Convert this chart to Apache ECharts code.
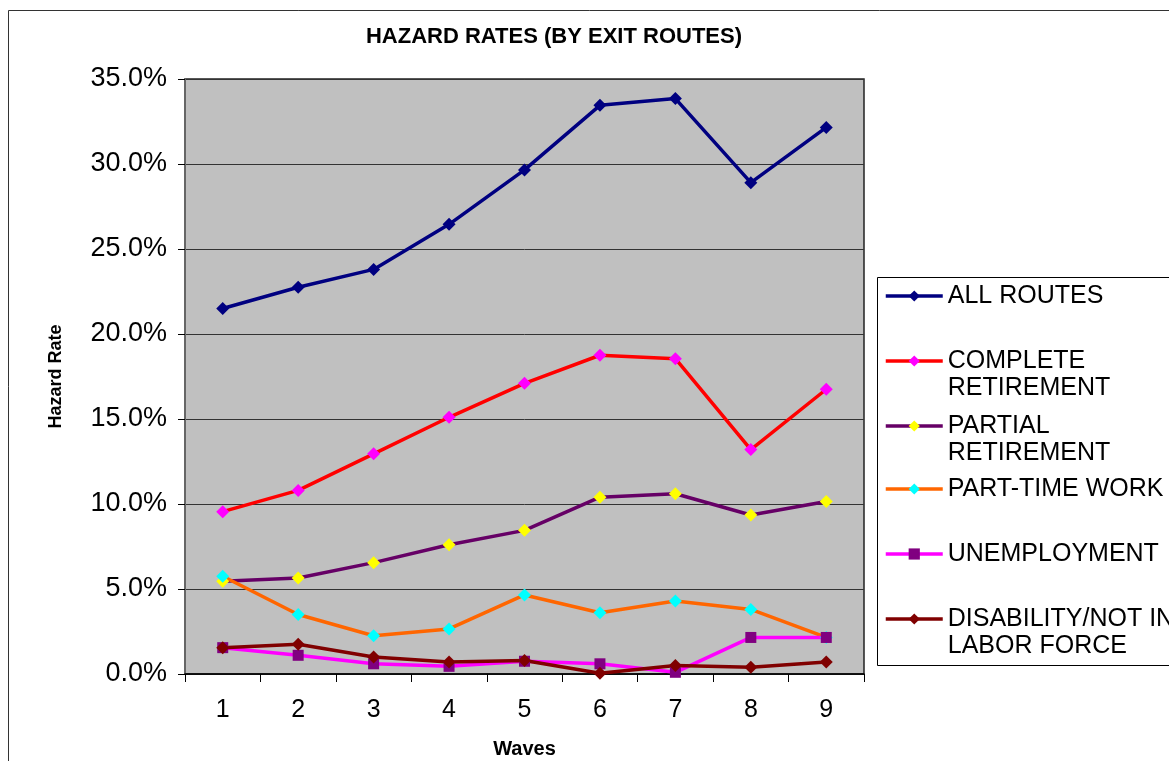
<!DOCTYPE html>
<html>
<head>
<meta charset="utf-8">
<title>Hazard Rates (by exit routes)</title>
<script src="https://cdn.jsdelivr.net/npm/echarts@6/dist/echarts.min.js"></script>
<style>
  html, body { margin: 0; padding: 0; background: #ffffff; }
  #chart { width: 1169px; height: 761px; }
</style>
</head>
<body>
<div id="chart"></div>
<script>
// Survey waves on the x axis
const waves = ['1', '2', '3', '4', '5', '6', '7', '8', '9'];

// Hazard rates per exit route, in percent
const allRoutes          = [21.5, 22.75, 23.8, 26.45, 29.65, 33.45, 33.85, 28.9, 32.15];
const completeRetirement = [9.55, 10.8, 12.95, 15.1, 17.1, 18.75, 18.55, 13.2, 16.75];
const partialRetirement  = [5.45, 5.65, 6.55, 7.6, 8.45, 10.4, 10.6, 9.35, 10.15];
const partTimeWork       = [5.75, 3.5, 2.25, 2.65, 4.65, 3.6, 4.3, 3.8, 2.15];
const unemployment       = [1.55, 1.1, 0.6, 0.45, 0.75, 0.6, 0.1, 2.15, 2.15];
const disabilityNotInLF  = [1.55, 1.75, 1.0, 0.7, 0.8, 0.05, 0.5, 0.4, 0.7];

// Y axis ticks (percent)
const yMin = 0, yMax = 35, yStep = 5;

const seriesDefs = [
  { name: 'ALL ROUTES', label: 'ALL ROUTES', data: allRoutes, line: '#000080', marker: '#000080', symbol: 'diamond', size: 13 },
  { name: 'COMPLETE RETIREMENT', label: 'COMPLETE\nRETIREMENT', data: completeRetirement, line: '#FF0000', marker: '#FF00FF', symbol: 'diamond', size: 13 },
  { name: 'PARTIAL RETIREMENT', label: 'PARTIAL\nRETIREMENT', data: partialRetirement, line: '#660066', marker: '#FFFF00', symbol: 'diamond', size: 13 },
  { name: 'PART-TIME WORK', label: 'PART-TIME WORK', data: partTimeWork, line: '#FF6600', marker: '#00FFFF', symbol: 'diamond', size: 13 },
  { name: 'UNEMPLOYMENT', label: 'UNEMPLOYMENT', data: unemployment, line: '#FF00FF', marker: '#800080', symbol: 'rect', size: 11 },
  { name: 'DISABILITY/NOT IN LABOR FORCE', label: 'DISABILITY/NOT IN\nLABOR FORCE', data: disabilityNotInLF, line: '#800000', marker: '#800000', symbol: 'diamond', size: 13 }
];

const FONT = 'Liberation Sans, Arial, Helvetica, sans-serif';
const LEGEND_LINE_H = 27;
// vertical centre of each legend swatch
const legendCenters = [296, 361, 426, 489, 554, 619];

const legends = seriesDefs.map((s, i) => {
  const twoLine = s.label.indexOf('\n') >= 0;
  const h = twoLine ? LEGEND_LINE_H * 3 : LEGEND_LINE_H;
  return {
    data: [s.name],
    orient: 'vertical',
    left: 884,
    top: legendCenters[i] - h / 2,
    padding: 0,
    itemWidth: 57,
    itemHeight: 14,
    itemGap: 0,
    selectedMode: false,
    lineStyle: { width: 3.5 },
    formatter: () => twoLine ? ' \n' + s.label : s.label,
    textStyle: { fontFamily: FONT, fontSize: 25, color: '#000', lineHeight: LEGEND_LINE_H, padding: [0, 0, 0, 0] }
  };
});

const chart = echarts.init(document.getElementById('chart'), null, { renderer: 'canvas' });

chart.setOption({
  backgroundColor: '#ffffff',
  animation: false,
  title: {
    text: 'HAZARD RATES (BY EXIT ROUTES)',
    left: 549,
    textAlign: 'center',
    top: 21,
    textStyle: { fontFamily: FONT, fontSize: 22, fontWeight: 'bold', color: '#000' }
  },
  graphic: [
    // chart frame
    { type: 'rect', shape: { x: 8.5, y: 10.5, width: 1300, height: 900 }, style: { fill: 'none', stroke: '#333', lineWidth: 1 }, silent: true, z: -1 },
    // legend frame
    { type: 'rect', shape: { x: 877.5, y: 277.5, width: 400, height: 388 }, style: { fill: '#fff', stroke: '#000', lineWidth: 1 }, silent: true, z: 0 }
  ],
  legend: legends,
  grid: {
    left: 185, right: 305, top: 79, bottom: 87,
    outerBoundsMode: 'none',
    containLabel: false,
    show: true,
    backgroundColor: '#C0C0C0',
    borderColor: '#222',
    borderWidth: 1.5
  },
  xAxis: {
    type: 'category',
    data: waves,
    boundaryGap: true,
    name: 'Waves',
    nameLocation: 'middle',
    nameGap: 65,
    nameTextStyle: { fontFamily: FONT, fontSize: 20, fontWeight: 'bold', color: '#000' },
    axisLine: { lineStyle: { color: '#000', width: 1.5 } },
    axisTick: { show: true, length: 8, lineStyle: { color: '#000', width: 1 } },
    axisLabel: { fontFamily: FONT, fontSize: 25, color: '#000', margin: 24 },
    splitLine: { show: false }
  },
  yAxis: {
    type: 'value',
    min: yMin, max: yMax, interval: yStep,
    name: 'Hazard Rate',
    nameLocation: 'middle',
    nameGap: 120,
    nameRotate: 90,
    nameTextStyle: { fontFamily: FONT, fontSize: 18, fontWeight: 'bold', color: '#000' },
    axisLine: { show: true, lineStyle: { color: '#666', width: 2 } },
    axisTick: { show: true, length: 7, lineStyle: { color: '#000', width: 1 } },
    axisLabel: {
      fontFamily: FONT, fontSize: 27, color: '#000', margin: 18,
      formatter: v => v.toFixed(1) + '%'
    },
    splitLine: { show: true, lineStyle: { color: '#333', width: 1 } }
  },
  series: seriesDefs.map(s => ({
    name: s.name,
    type: 'line',
    data: s.data,
    symbol: s.symbol,
    symbolSize: s.size,
    showAllSymbol: true,
    lineStyle: { color: s.line, width: 3.5 },
    itemStyle: { color: s.marker, borderWidth: 0 },
    emphasis: { disabled: true }
  }))
});
</script>
</body>
</html>
